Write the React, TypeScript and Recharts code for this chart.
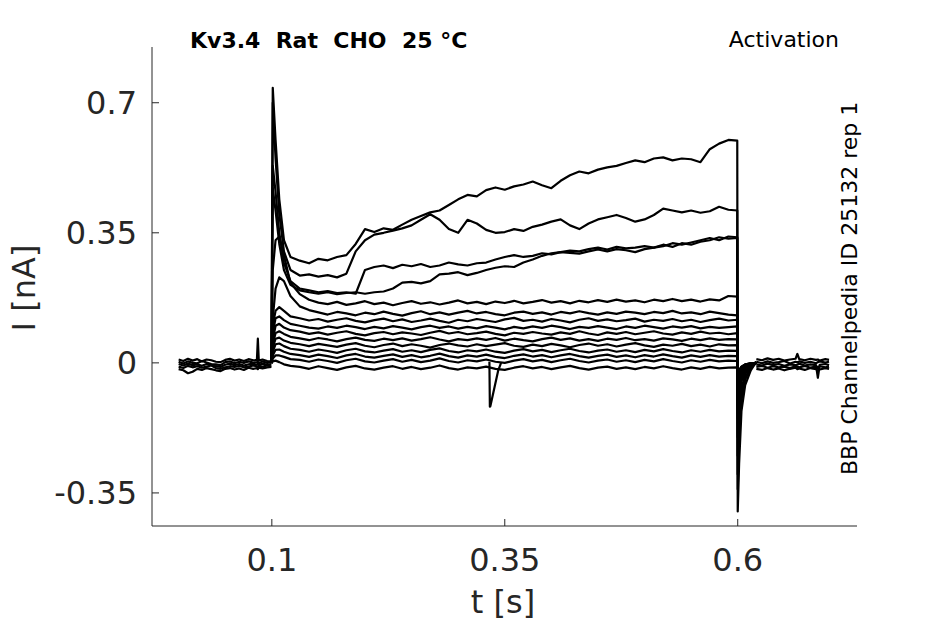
import { LineChart, Line, XAxis, YAxis } from "recharts";

const W = 945;
const H = 624;
const INK = "#262626";
const FONT = "DejaVu Sans, sans-serif";

// sample times shared by every sweep (step window + tail)
const STEP_T = [
  0.0995, 0.1, 0.101, 0.104, 0.108, 0.113, 0.12,
  0.13, 0.14, 0.15, 0.16, 0.17, 0.18, 0.19, 0.2, 0.21, 0.22,
  0.23, 0.24, 0.25, 0.26, 0.27, 0.28, 0.29, 0.3, 0.31, 0.32,
  0.33, 0.34, 0.35, 0.36, 0.37, 0.38, 0.39, 0.4, 0.41, 0.42,
  0.43, 0.44, 0.45, 0.46, 0.47, 0.48, 0.49, 0.5, 0.51, 0.52,
  0.53, 0.54, 0.55, 0.56, 0.57, 0.58, 0.59,
  0.5995, 0.6, 0.6015, 0.604, 0.608, 0.614, 0.62,
];

// holding current before / after the step (overlapping sweeps)
const PRE_T = [0, 0.005, 0.01, 0.015, 0.02, 0.025, 0.03, 0.035, 0.04, 0.045, 0.05, 0.055, 0.06, 0.065, 0.07, 0.075, 0.08, 0.084, 0.085, 0.086, 0.09, 0.095, 0.0995];
const POST_T = [0.62, 0.626, 0.632, 0.638, 0.644, 0.65, 0.656, 0.662, 0.664, 0.666, 0.672, 0.678, 0.684, 0.686, 0.688, 0.694, 0.698];
const GLITCH_T = [0.3335, 0.334, 0.3345, 0.343, 0.346];

const sweepA = [
  0, 0.2, 0.74, 0.6, 0.44, 0.33, 0.285,
  0.275, 0.268, 0.28, 0.276, 0.285, 0.29, 0.32, 0.36, 0.352, 0.362,
  0.358, 0.372, 0.385, 0.395, 0.405, 0.41, 0.425, 0.44, 0.452, 0.448,
  0.465, 0.472, 0.466, 0.475, 0.48, 0.488, 0.478, 0.47, 0.49, 0.505,
  0.515, 0.51, 0.52, 0.526, 0.53, 0.538, 0.545, 0.54, 0.55, 0.553,
  0.545, 0.55, 0.548, 0.54, 0.575, 0.59, 0.6,
  0.598, -0.4, -0.27, -0.13, -0.06, -0.02, 0.003,
];
const sweepB = [
  0, 0.18, 0.7, 0.55, 0.4, 0.3, 0.25,
  0.235, 0.238, 0.232, 0.236, 0.23, 0.24, 0.3, 0.33, 0.345, 0.35,
  0.356, 0.362, 0.37, 0.385, 0.4, 0.385, 0.36, 0.35, 0.385, 0.375,
  0.358, 0.35, 0.352, 0.36, 0.355, 0.366, 0.372, 0.38, 0.386, 0.37,
  0.36, 0.375, 0.386, 0.392, 0.398, 0.39, 0.38, 0.386, 0.398, 0.415,
  0.41, 0.405, 0.41, 0.404, 0.408, 0.42, 0.412,
  0.41, -0.34, -0.2, -0.1, -0.045, -0.015, 0.002,
];
const sweepC = [
  0, 0.15, 0.53, 0.46, 0.35, 0.27, 0.22,
  0.2, 0.195, 0.19, 0.193, 0.188, 0.19, 0.186, 0.25, 0.258, 0.262,
  0.255, 0.264, 0.26, 0.266, 0.258, 0.262, 0.27, 0.265, 0.262, 0.268,
  0.27, 0.278, 0.285, 0.29, 0.285, 0.288, 0.295, 0.292, 0.298, 0.302,
  0.3, 0.306, 0.31, 0.305, 0.312, 0.308, 0.31, 0.314, 0.31, 0.318,
  0.312, 0.322, 0.318, 0.326, 0.33, 0.338, 0.334,
  0.336, -0.3, -0.17, -0.08, -0.04, -0.012, 0,
];
const sweepD = [
  0, 0.14, 0.47, 0.41, 0.32, 0.25, 0.21,
  0.195, 0.19, 0.186, 0.19, 0.185, 0.188, 0.19, 0.186, 0.19, 0.192,
  0.2, 0.216, 0.218, 0.214, 0.22, 0.238, 0.24, 0.244, 0.236, 0.242,
  0.25, 0.256, 0.26, 0.258, 0.27, 0.278, 0.288, 0.295, 0.298, 0.296,
  0.294, 0.3, 0.305, 0.3, 0.306, 0.303, 0.298, 0.306, 0.31, 0.314,
  0.322, 0.318, 0.324, 0.33, 0.336, 0.33, 0.34,
  0.338, -0.25, -0.14, -0.07, -0.03, -0.01, 0,
];
const sweepE = [
  0, 0.02, 0.25, 0.33, 0.34, 0.29, 0.215,
  0.185, 0.17, 0.162, 0.158, 0.164, 0.156, 0.16, 0.166, 0.158, 0.162,
  0.155, 0.161, 0.166, 0.159, 0.163, 0.157, 0.162, 0.168, 0.16, 0.164,
  0.158, 0.165, 0.161, 0.167, 0.16, 0.164, 0.169, 0.162, 0.166, 0.16,
  0.167, 0.163, 0.169, 0.164, 0.17, 0.165, 0.168, 0.163, 0.17, 0.166,
  0.172, 0.166, 0.17, 0.165, 0.171, 0.168, 0.18,
  0.178, -0.2, -0.1, -0.05, -0.025, -0.01, 0.002,
];
const sweepF = [
  0, 0.02, 0.12, 0.2, 0.23, 0.22, 0.18,
  0.152, 0.142, 0.136, 0.13, 0.137, 0.133, 0.128, 0.135, 0.131, 0.138,
  0.132, 0.127, 0.134, 0.139, 0.131, 0.136, 0.13, 0.135, 0.14, 0.133,
  0.137, 0.131, 0.128, 0.135, 0.138, 0.132, 0.136, 0.13, 0.137, 0.133,
  0.139, 0.134, 0.13, 0.136, 0.132, 0.138, 0.135, 0.131, 0.137, 0.134,
  0.14, 0.133, 0.136, 0.131, 0.138, 0.134, 0.13,
  0.128, -0.15, -0.08, -0.04, -0.02, -0.008, 0,
];
const sweepG = [
  0, 0.015, 0.1, 0.14, 0.15, 0.14, 0.125,
  0.12, 0.114, 0.118, 0.111, 0.116, 0.12, 0.113, 0.109, 0.115, 0.119,
  0.112, 0.117, 0.11, 0.114, 0.119, 0.113, 0.108, 0.116, 0.112, 0.118,
  0.114, 0.11, 0.117, 0.121, 0.113, 0.116, 0.111, 0.118, 0.114, 0.109,
  0.116, 0.12, 0.113, 0.117, 0.112, 0.115, 0.119, 0.111, 0.116, 0.113,
  0.118, 0.112, 0.116, 0.11, 0.115, 0.119, 0.114,
  0.116, -0.12, -0.07, -0.035, -0.015, -0.005, 0,
];
const sweepH = [
  0, 0.012, 0.08, 0.12, 0.125, 0.115, 0.105,
  0.1, 0.095, 0.092, 0.098, 0.094, 0.1, 0.096, 0.091, 0.097, 0.093,
  0.099, 0.095, 0.09, 0.096, 0.1, 0.094, 0.098, 0.092, 0.097, 0.093,
  0.099, 0.095, 0.09, 0.097, 0.093, 0.098, 0.094, 0.1, 0.096, 0.091,
  0.097, 0.094, 0.099, 0.095, 0.091, 0.098, 0.094, 0.1, 0.096, 0.092,
  0.098, 0.095, 0.099, 0.093, 0.097, 0.094, 0.096,
  0.098, -0.1, -0.06, -0.03, -0.012, -0.004, 0.001,
];
const sweepI = [
  0, 0.01, 0.06, 0.1, 0.105, 0.095, 0.088,
  0.084, 0.078, 0.082, 0.076, 0.081, 0.085, 0.078, 0.074, 0.08, 0.083,
  0.077, 0.082, 0.079, 0.075, 0.081, 0.086, 0.079, 0.083, 0.077, 0.08,
  0.084, 0.078, 0.074, 0.081, 0.078, 0.083, 0.079, 0.076, 0.082, 0.078,
  0.085, 0.079, 0.075, 0.082, 0.078, 0.083, 0.077, 0.081, 0.085, 0.079,
  0.076, 0.082, 0.078, 0.084, 0.079, 0.081, 0.077,
  0.08, -0.08, -0.05, -0.025, -0.01, -0.003, 0,
];
const sweepJ = [
  0, 0.008, 0.05, 0.08, 0.085, 0.078, 0.07,
  0.066, 0.061, 0.067, 0.063, 0.058, 0.064, 0.068, 0.062, 0.059, 0.065,
  0.061, 0.066, 0.06, 0.064, 0.069, 0.063, 0.058, 0.064, 0.061, 0.066,
  0.062, 0.067, 0.06, 0.065, 0.061, 0.058, 0.064, 0.068, 0.062, 0.066,
  0.06, 0.064, 0.059, 0.065, 0.062, 0.067, 0.061, 0.064, 0.06, 0.066,
  0.063, 0.059, 0.065, 0.061, 0.066, 0.062, 0.064,
  0.063, -0.07, -0.04, -0.02, -0.008, -0.002, 0,
];
const sweepK = [
  0, 0.006, 0.04, 0.065, 0.068, 0.06, 0.054,
  0.05, 0.045, 0.051, 0.047, 0.043, 0.049, 0.053, 0.046, 0.042, 0.048,
  0.052, 0.045, 0.05, 0.046, 0.041, 0.048, 0.052, 0.047, 0.044, 0.05,
  0.045, 0.049, 0.053, 0.046, 0.043, 0.049, 0.045, 0.051, 0.047, 0.042,
  0.048, 0.052, 0.046, 0.05, 0.044, 0.049, 0.053, 0.047, 0.043, 0.049,
  0.046, 0.051, 0.045, 0.049, 0.044, 0.05, 0.047,
  0.048, -0.06, -0.035, -0.018, -0.007, -0.002, 0,
];
const sweepL = [
  0, 0.005, 0.03, 0.05, 0.052, 0.045, 0.038,
  0.035, 0.03, 0.036, 0.032, 0.027, 0.034, 0.038, 0.031, 0.028, 0.033,
  0.037, 0.03, 0.034, 0.029, 0.035, 0.039, 0.032, 0.028, 0.034, 0.031,
  0.036, 0.03, 0.027, 0.033, 0.037, 0.031, 0.035, 0.029, 0.034, 0.038,
  0.032, 0.028, 0.033, 0.036, 0.03, 0.034, 0.029, 0.035, 0.031, 0.037,
  0.032, 0.028, 0.034, 0.03, 0.035, 0.031, 0.033,
  0.032, -0.05, -0.03, -0.015, -0.006, -0.001, 0,
];
const sweepM = [
  0, 0.004, 0.02, 0.035, 0.036, 0.03, 0.024,
  0.021, 0.016, 0.022, 0.018, 0.013, 0.02, 0.024, 0.017, 0.014, 0.019,
  0.023, 0.016, 0.021, 0.015, 0.019, 0.025, 0.018, 0.014, 0.02, 0.017,
  0.022, 0.016, 0.013, 0.019, 0.023, 0.017, 0.021, 0.015, 0.02, 0.024,
  0.018, 0.014, 0.019, 0.022, 0.016, 0.02, 0.015, 0.021, 0.017, 0.023,
  0.018, 0.014, 0.02, 0.016, 0.021, 0.017, 0.019,
  0.018, -0.045, -0.025, -0.012, -0.005, -0.001, 0,
];
const sweepN = [
  0, 0.002, 0.012, 0.02, 0.02, 0.016, 0.01,
  0.008, 0.003, 0.009, 0.005, 0, 0.007, 0.011, 0.004, 0.001, 0.006,
  0.01, 0.003, 0.008, 0.002, 0.006, 0.012, 0.005, 0.001, 0.007, 0.004,
  0.009, 0.003, 0, 0.006, 0.01, 0.004, 0.008, 0.002, 0.007, 0.011,
  0.005, 0.001, 0.006, 0.009, 0.003, 0.007, 0.002, 0.008, 0.004, 0.01,
  0.005, 0.001, 0.007, 0.003, 0.008, 0.004, 0.006,
  0.005, -0.04, -0.02, -0.01, -0.004, -0.001, 0,
];
const sweepO = [
  0, 0, 0.004, 0.006, 0.002, -0.004, -0.008,
  -0.011, -0.016, -0.009, -0.014, -0.019, -0.012, -0.008, -0.015, -0.018, -0.013,
  -0.009, -0.016, -0.011, -0.017, -0.013, -0.007, -0.014, -0.018, -0.012, -0.015,
  -0.01, -0.016, -0.019, -0.013, -0.009, -0.015, -0.011, -0.017, -0.012, -0.008,
  -0.014, -0.018, -0.013, -0.01, -0.016, -0.012, -0.017, -0.011, -0.015, -0.009,
  -0.014, -0.018, -0.012, -0.016, -0.011, -0.015, -0.013,
  -0.012, -0.035, -0.02, -0.01, -0.004, -0.001, 0,
];

const pre1 = [0.009, 0.005, 0.011, 0.006, 0.01, 0.004, 0.009, 0.007, 0.003, 0.002, 0.008, 0.011, 0.006, 0.009, 0.005, 0.01, 0.007, 0.008, 0.065, 0.006, 0.009, 0.005, 0.004];
const pre2 = [0.003, -0.002, 0.004, 0, -0.001, 0.005, 0.001, -0.003, -0.004, -0.006, 0.002, 0.004, -0.001, 0.003, 0, 0.004, 0.001, 0.002, 0.003, -0.001, 0.004, 0, 0.002];
const pre3 = [-0.003, -0.007, -0.002, -0.006, -0.004, -0.008, -0.003, -0.005, -0.009, -0.011, -0.005, -0.002, -0.006, -0.003, -0.007, -0.004, -0.002, -0.005, -0.003, -0.006, -0.002, -0.005, -0.003];
const pre4 = [-0.01, -0.014, -0.008, -0.012, -0.009, -0.013, -0.01, -0.007, -0.014, -0.016, -0.012, -0.009, -0.011, -0.008, -0.012, -0.01, -0.007, -0.009, -0.011, -0.008, -0.01, -0.007, -0.009];
const pre5 = [-0.017, -0.02, -0.028, -0.024, -0.016, -0.019, -0.014, -0.017, -0.02, -0.022, -0.016, -0.014, -0.018, -0.015, -0.019, -0.013, -0.016, -0.014, -0.017, -0.013, -0.015, -0.012, -0.011];

const post1 = [0.01, 0.007, 0.012, 0.008, 0.011, 0.006, 0.009, 0.011, 0.024, 0.01, 0.007, 0.011, 0.008, 0.009, 0.006, 0.01, 0.008];
const post2 = [0.003, -0.001, 0.004, 0, 0.002, 0.005, -0.002, 0.003, 0.001, 0.004, 0, 0.003, -0.001, 0.002, 0.004, 0.001, 0.003];
const post3 = [-0.004, -0.007, -0.002, -0.006, -0.003, -0.008, -0.004, -0.006, -0.005, -0.002, -0.007, -0.004, -0.006, -0.04, -0.005, -0.003, -0.006];
const post4 = [-0.011, -0.008, -0.013, -0.009, -0.012, -0.01, -0.014, -0.009, -0.011, -0.012, -0.008, -0.013, -0.01, -0.011, -0.009, -0.012, -0.01];
const post5 = [-0.016, -0.019, -0.014, -0.018, -0.015, -0.02, -0.016, -0.013, -0.017, -0.015, -0.019, -0.014, -0.017, -0.015, -0.018, -0.014, -0.016];

const glitch = [0.003, -0.118, -0.117, -0.02, 0];

const X_TICKS = [0.1, 0.35, 0.6];
const Y_TICKS = [-0.35, 0, 0.35, 0.7];

const pair = (ts: number[], vs: number[]) => vs.map((v, i) => ({ t: ts[i], v }));

const traces = [
  ...[sweepA, sweepB, sweepC, sweepD, sweepE, sweepF, sweepG, sweepH, sweepI, sweepJ, sweepK, sweepL, sweepM, sweepN, sweepO].map((s, i) => ({ id: `sweep${i}`, points: pair(STEP_T, s) })),
  ...[pre1, pre2, pre3, pre4, pre5].map((s, i) => ({ id: `pre${i}`, points: pair(PRE_T, s) })),
  ...[post1, post2, post3, post4, post5].map((s, i) => ({ id: `post${i}`, points: pair(POST_T, s) })),
  { id: "glitch", points: pair(GLITCH_T, glitch) },
];

export default function App() {
  return (
    <div style={{ position: "absolute", left: 0, top: 0, width: W, height: H, background: "#fff" }}>
      <LineChart width={W} height={H} margin={{ top: 47, right: 88, bottom: 38, left: 52 }}>
        <XAxis
          type="number"
          dataKey="t"
          domain={[-0.0286, 0.728]}
          ticks={X_TICKS}
          interval={0}
          allowDataOverflow
          height={60}
          tickSize={-7}
          tickMargin={29}
          stroke={INK}
          tick={{ fill: INK, fontSize: 32, fontFamily: FONT }}
        />
        <YAxis
          type="number"
          dataKey="v"
          domain={[-0.439, 0.85]}
          ticks={Y_TICKS}
          interval={0}
          allowDataOverflow
          width={100}
          tickSize={-7}
          tickMargin={22}
          stroke={INK}
          tick={{ fill: INK, fontSize: 32, fontFamily: FONT }}
        />
        {traces.map((tr) => (
          <Line
            key={tr.id}
            data={tr.points}
            dataKey="v"
            type="linear"
            stroke="#000"
            strokeWidth={2.2}
            strokeLinejoin="round"
            dot={false}
            activeDot={false}
            isAnimationActive={false}
          />
        ))}
      </LineChart>
      <svg width={W} height={H} style={{ position: "absolute", left: 0, top: 0, pointerEvents: "none" }} fontFamily={FONT}>
        <text x={190} y={48} fontSize={22} fontWeight="bold" fill="#000" style={{ whiteSpace: "pre" }}>
          {"Kv3.4  Rat  CHO  25 °C"}
        </text>
        <text x={839} y={47} fontSize={22} fill="#000" textAnchor="end">
          Activation
        </text>
        <text transform="translate(857,475) rotate(-90)" fontSize={22} fill="#000">
          BBP Channelpedia ID 25132 rep 1
        </text>
        <text transform="translate(35,288) rotate(-90)" fontSize={32} fill={INK} textAnchor="middle">
          I [nA]
        </text>
        <text x={503} y={613} fontSize={32} fill={INK} textAnchor="middle">
          t [s]
        </text>
      </svg>
    </div>
  );
}
